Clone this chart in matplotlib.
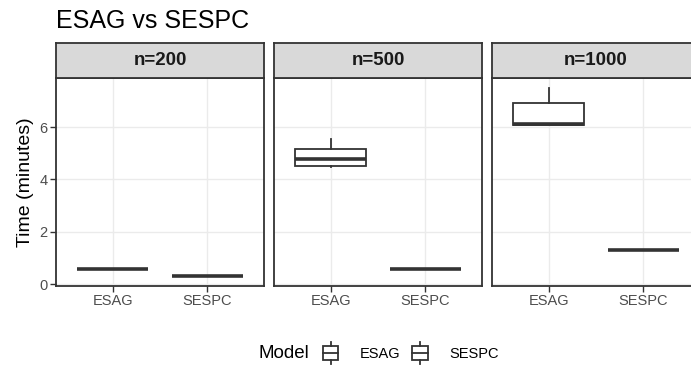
import numpy as np
import matplotlib
matplotlib.use("Agg")
import matplotlib.pyplot as plt
from matplotlib.patches import Rectangle
from matplotlib.lines import Line2D
from matplotlib.legend_handler import HandlerBase

plt.rcParams['font.family'] = ['Liberation Sans', 'DejaVu Sans']

# data (minutes)
panels = ['n=200', 'n=500', 'n=1000']
models = ['ESAG', 'SESPC']
whislo = [[0.57, 0.32], [4.48, 0.58], [6.07, 1.30]]
q1 = [[0.57, 0.32], [4.50, 0.58], [6.08, 1.30]]
med = [[0.57, 0.32], [4.78, 0.58], [6.13, 1.30]]
q3 = [[0.57, 0.32], [5.18, 0.58], [6.90, 1.30]]
whishi = [[0.57, 0.32], [5.55, 0.58], [7.47, 1.30]]
y_ticks = [0, 2, 4, 6]

W, H = 691, 368
dark = '#333333'
grid = '#EBEBEB'


def px_box(x0, y0, x1, y1):
    # pixel box (top-left origin) -> figure fraction rect
    return [x0 / W, 1 - y1 / H, (x1 - x0) / W, (y1 - y0) / H]


class HandlerBox(HandlerBase):
    def create_artists(self, legend, orig_handle, xdescent, ydescent,
                       width, height, fontsize, trans):
        cx = width / 2 - xdescent
        cy = height / 2 - ydescent
        bw, bh, wl = 11, 9.5, 3.5
        rect = Rectangle((cx - bw / 2, cy - bh / 2), bw, bh, facecolor='white',
                         edgecolor=dark, linewidth=1.3, transform=trans)
        mline = Line2D([cx - bw / 2, cx + bw / 2], [cy, cy], color=dark,
                       linewidth=1.3, transform=trans)
        wtop = Line2D([cx, cx], [cy + bh / 2, cy + bh / 2 + wl], color=dark,
                      linewidth=1.3, transform=trans)
        wbot = Line2D([cx, cx], [cy - bh / 2, cy - bh / 2 - wl], color=dark,
                      linewidth=1.3, transform=trans)
        return [rect, mline, wtop, wbot]


fig = plt.figure(figsize=(W / 100, H / 100), dpi=100)

lefts = [56, 274, 492]
pw = 208
for i, name in enumerate(panels):
    x0 = lefts[i]
    ax = fig.add_axes(px_box(x0, 78, x0 + pw, 286))
    stats = []
    for j, m in enumerate(models):
        stats.append(dict(whislo=whislo[i][j], q1=q1[i][j], med=med[i][j],
                          q3=q3[i][j], whishi=whishi[i][j], label=m))
    ax.bxp(stats, positions=[1, 2], widths=0.75, showfliers=False,
           showcaps=False, patch_artist=True,
           boxprops=dict(facecolor='white', edgecolor=dark, linewidth=1.3),
           medianprops=dict(color=dark, linewidth=2.6, solid_capstyle='butt'),
           whiskerprops=dict(color=dark, linewidth=1.3))
    ax.set_xlim(0.4, 2.6)
    ax.set_ylim(-0.065, 7.87)
    ax.set_yticks(y_ticks)
    ax.set_axisbelow(True)
    ax.grid(True, color=grid, linewidth=1.0)
    for s in ax.spines.values():
        s.set_color(dark)
        s.set_linewidth(1.3)
    ax.tick_params(axis='x', colors=dark, labelcolor='#4D4D4D',
                   labelsize=10.5, length=4, width=1.0, pad=2)
    ax.tick_params(axis='y', colors=dark, labelcolor='#4D4D4D',
                   labelsize=10.5, length=4, width=1.0, pad=2)
    if i > 0:
        ax.tick_params(axis='y', length=0, labelleft=False)
    else:
        ax.set_ylabel('Time (minutes)', fontsize=14, color='black', labelpad=4)

    sx = fig.add_axes(px_box(x0, 43, x0 + pw, 78))
    sx.set_facecolor('#D9D9D9')
    sx.set_xticks([])
    sx.set_yticks([])
    for s in sx.spines.values():
        s.set_color(dark)
        s.set_linewidth(1.3)
    sx.text(0.5, 0.5, name, ha='center', va='center', fontsize=13.5,
            fontweight='bold', color='#1A1A1A', transform=sx.transAxes)

fig.text(56 / W, 1 - 27.5 / H, 'ESAG vs SESPC', fontsize=18, color='black',
         ha='left', va='baseline')

fig.text(258 / W, 1 - 353 / H, 'Model', fontsize=13.5, color='black',
         ha='left', va='center')
handles = [object(), object()]
fig.legend(handles, models, handler_map={object: HandlerBox()},
           loc='center left', bbox_to_anchor=(316 / W, 1 - 353 / H),
           ncol=2, frameon=False, fontsize=10.5, handlelength=2.0,
           handleheight=1.6, handletextpad=1.0, columnspacing=0.35,
           borderpad=0, borderaxespad=0)

fig.savefig('out.png', dpi=100)
